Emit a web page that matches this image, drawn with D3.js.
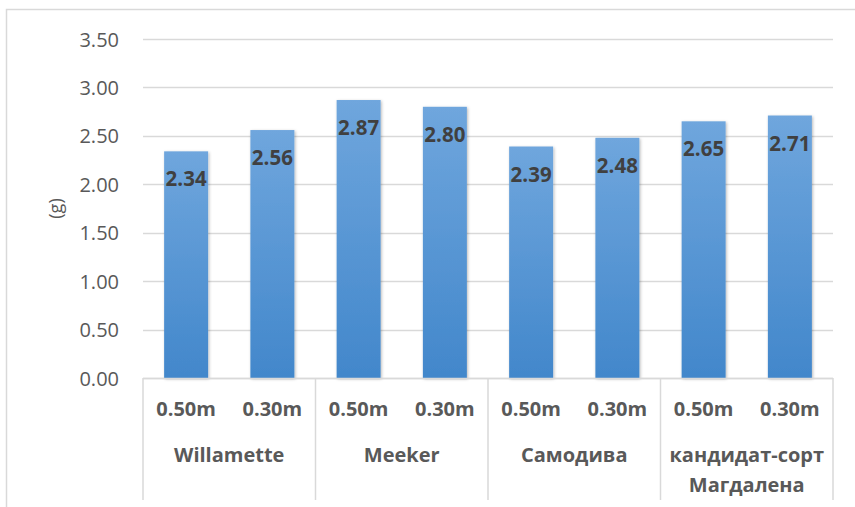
<!DOCTYPE html>
<html>
<head>
<meta charset="utf-8">
<script src="https://cdn.jsdelivr.net/npm/d3@7"></script>
<style>
  body { margin: 0; background: #fff; }
  svg { display: block; font-family: "Open Sans", Lato, sans-serif; }
</style>
</head>
<body>
<svg id="chart" width="855" height="507"></svg>
<script>
// Cultivars and planting distances
const groups = ["Willamette", "Meeker", "Самодива", "кандидат-сорт\nМагдалена"];
const spacings = ["0.50m", "0.30m"];
// Mean fruit weight (g), one value per group × spacing
const values = [2.34, 2.56, 2.87, 2.80, 2.39, 2.48, 2.65, 2.71];
const yTicks = [0, 0.5, 1, 1.5, 2, 2.5, 3, 3.5];
const yLabel = "(g)";

const svg = d3.select("#chart");
const plot = { left: 143, right: 833, top: 39, bottom: 378 };

// Outer chart frame (top and left edges)
svg.append("path")
  .attr("d", "M6.5,507 V9.5 H855")
  .attr("fill", "none")
  .attr("stroke", "#d9d9d9")
  .attr("stroke-width", 1.5);

const defs = svg.append("defs");
const grad = defs.append("linearGradient")
  .attr("id", "barGrad").attr("x1", 0).attr("y1", 0).attr("x2", 0).attr("y2", 1);
grad.append("stop").attr("offset", "0%").attr("stop-color", "#6fa6dd");
grad.append("stop").attr("offset", "100%").attr("stop-color", "#4287cb");

const shadow = defs.append("filter").attr("id", "shadow")
  .attr("x", "-20%").attr("y", "-10%").attr("width", "140%").attr("height", "120%");
shadow.append("feDropShadow")
  .attr("dx", 1).attr("dy", 1).attr("stdDeviation", 1.6)
  .attr("flood-color", "#000").attr("flood-opacity", 0.28);

const y = d3.scaleLinear().domain([0, 3.5]).range([plot.bottom, plot.top]);

const keys = [];
groups.forEach((g, gi) => spacings.forEach((s, si) => keys.push(gi * spacings.length + si)));
const x = d3.scaleBand().domain(keys).range([plot.left, plot.right])
  .paddingInner(0.49).paddingOuter(0.245);

// Horizontal gridlines
svg.append("g")
  .selectAll("line")
  .data(yTicks)
  .join("line")
  .attr("x1", plot.left).attr("x2", plot.right)
  .attr("y1", d => Math.round(y(d)) + 0.5).attr("y2", d => Math.round(y(d)) + 0.5)
  .attr("stroke", "#d9d9d9").attr("stroke-width", 1.3);

// Y axis labels
const yAxis = d3.axisLeft(y).tickValues(yTicks).tickFormat(d3.format(".2f")).tickSize(0).tickPadding(0);
const yg = svg.append("g").attr("transform", "translate(119,0)").call(yAxis);
yg.select(".domain").remove();
yg.selectAll("text")
  .attr("font-size", 20).attr("fill", "#595959")
  .attr("font-family", "'Open Sans', Lato, sans-serif")
  .attr("dy", "0.35em");

svg.append("text")
  .attr("transform", `translate(62,${(plot.top + plot.bottom) / 2}) rotate(-90)`)
  .attr("text-anchor", "middle")
  .attr("font-size", 18).attr("fill", "#595959")
  .text(yLabel);

// Bars
svg.append("g")
  .selectAll("rect")
  .data(values)
  .join("rect")
  .attr("x", (d, i) => x(i))
  .attr("y", d => y(d))
  .attr("width", x.bandwidth())
  .attr("height", d => y(0) - y(d))
  .attr("fill", "url(#barGrad)")
  .attr("filter", "url(#shadow)");

// Value labels, inside the top of each bar
svg.append("g")
  .selectAll("text")
  .data(values)
  .join("text")
  .attr("x", (d, i) => x(i) + x.bandwidth() / 2)
  .attr("y", d => y(d) + 35)
  .attr("text-anchor", "middle")
  .attr("font-size", 20.5).attr("font-weight", 700).attr("fill", "#404040")
  .text(d => d.toFixed(2));

// Category axis: baseline, group separators, spacing labels, group labels
const groupW = (plot.right - plot.left) / groups.length;
svg.append("line")
  .attr("x1", plot.left).attr("x2", plot.right)
  .attr("y1", plot.bottom + 0.5).attr("y2", plot.bottom + 0.5)
  .attr("stroke", "#d9d9d9").attr("stroke-width", 1.5);

svg.append("g")
  .selectAll("line")
  .data(d3.range(groups.length + 1))
  .join("line")
  .attr("x1", i => plot.left + i * groupW).attr("x2", i => plot.left + i * groupW)
  .attr("y1", plot.bottom).attr("y2", 500)
  .attr("stroke", "#d9d9d9").attr("stroke-width", 1.5);

svg.append("g")
  .selectAll("text")
  .data(keys)
  .join("text")
  .attr("x", i => x(i) + x.bandwidth() / 2)
  .attr("y", 416)
  .attr("text-anchor", "middle")
  .attr("font-size", 20).attr("font-weight", 700).attr("fill", "#595959")
  .text(i => spacings[i % spacings.length]);

const gl = svg.append("g")
  .selectAll("text")
  .data(groups)
  .join("text")
  .attr("x", (d, i) => plot.left + (i + 0.5) * groupW)
  .attr("y", 462)
  .attr("text-anchor", "middle")
  .attr("font-size", 20).attr("font-weight", 700).attr("fill", "#595959");
gl.selectAll("tspan")
  .data(d => d.split("\n"))
  .join("tspan")
  .attr("x", function () { return d3.select(this.parentNode).attr("x"); })
  .attr("dy", (d, i) => i === 0 ? 0 : 30)
  .text(d => d);
</script>
</body>
</html>
